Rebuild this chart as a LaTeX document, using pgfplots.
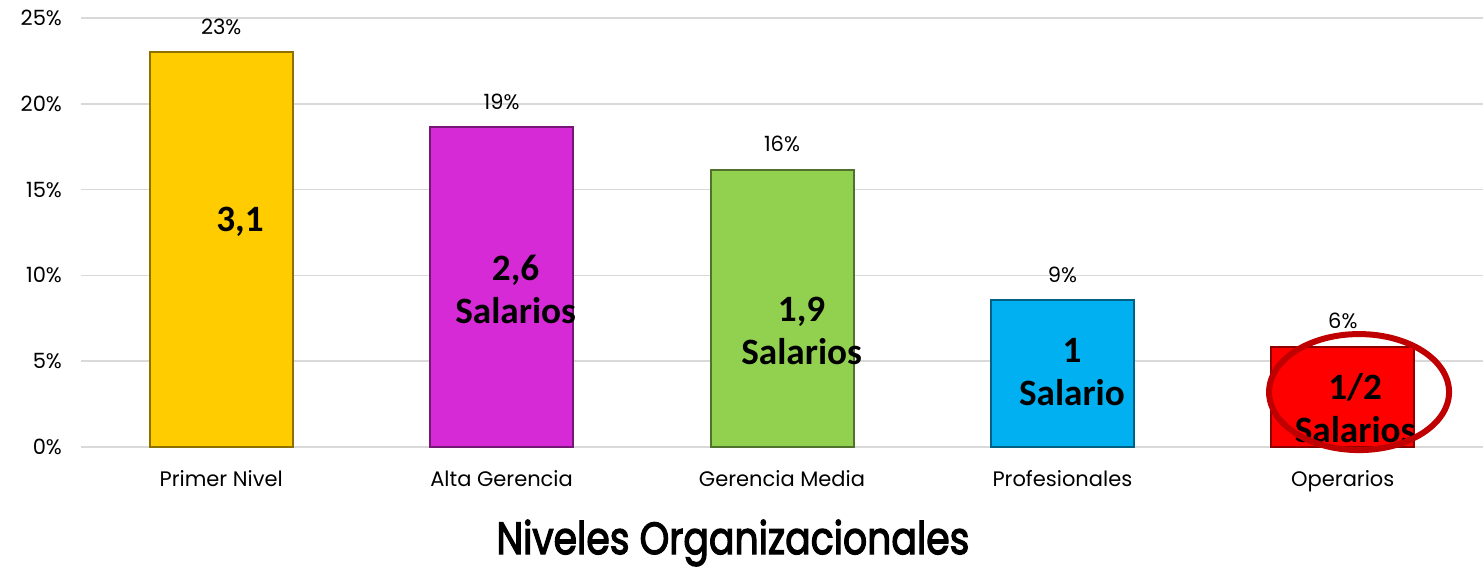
\documentclass[border=0pt]{standalone}
\usepackage{pgfplots}
\pgfplotsset{compat=1.18}
\usepackage{fontspec}
\setmainfont{Poppins}
\newfontfamily\calfont{Carlito}
\newfontfamily\titlefont{Poppins}[FakeBold=3]
\definecolor{cYellow}{RGB}{255,204,0}
\definecolor{cMagenta}{RGB}{214,42,214}
\definecolor{cGreen}{RGB}{146,208,80}
\definecolor{cCyan}{RGB}{0,176,240}
\definecolor{cRed}{RGB}{255,0,0}
\definecolor{cRing}{RGB}{192,0,0}
\begin{document}
\begin{tikzpicture}
\begin{axis}[
  scale only axis, width=701pt, height=214.5pt,
  xmin=-0.5, xmax=4.5, ymin=0, ymax=25,
  ybar, bar width=71.5pt, bar shift=0pt,
  xtick={0,1,2,3,4},
  xticklabels={Primer Nivel, Alta Gerencia, Gerencia Media, Profesionales, Operarios},
  ytick={0,5,10,15,20,25},
  yticklabels={0\%,5\%,10\%,15\%,20\%,25\%},
  ymajorgrids, grid style={black!15, line width=0.75pt},
  axis line style={draw=none}, major tick length=0pt,
  tick label style={font=\fontsize{10.5}{12}\selectfont, text=black},
  yticklabel style={xshift=-6pt},
  xticklabel style={yshift=-8pt},
  /pgf/number format/assume math mode=true,
  nodes near coords={\pgfmathprintnumber[fixed,precision=0]{\pgfplotspointmeta}\%},
  nodes near coords style={font=\fontsize{10.5}{12}\selectfont, text=black, yshift=5pt},
  clip=false,
]
\addplot[fill=cYellow, draw=cYellow!55!black, line width=1pt] coordinates {(0,23)};
\addplot[fill=cMagenta, draw=cMagenta!55!black, line width=1pt] coordinates {(1,18.65)};
\addplot[fill=cGreen, draw=cGreen!55!black, line width=1pt] coordinates {(2,16.15)};
\addplot[fill=cCyan, draw=cCyan!55!black, line width=1pt] coordinates {(3,8.55)};
\addplot[fill=cRed, draw=cRed!55!black, line width=1pt] coordinates {(4,5.85)};
\begin{scope}[every node/.style={font=\calfont\bfseries\fontsize{18.6}{21.5}\selectfont, align=center, text=black}]
\node at (axis cs:0.067,13.1) {3,1};
\node at (axis cs:1.05,9.2) {2,6\\Salarios};
\node at (axis cs:2.07,6.76) {1,9\\Salarios};
\node at (axis cs:3.034,4.37) {1\\Salario};
\node at (axis cs:4.044,2.27) {1/2\\Salarios};
\end{scope}
\draw[cRing, line width=3pt] (axis cs:4.058,3.2) ellipse [x radius=45pt, y radius=29pt];
\node[font=\titlefont\fontsize{22.5}{26}\selectfont] at (rel axis cs:0.5,0) [yshift=-48pt, xshift=-24.5pt] {\scalebox{0.84}[1]{Niveles Organizacionales}};
\end{axis}
\path (current axis.south west) ++(-40.5pt,-61pt) coordinate (bbA);
\path (current axis.north east) ++(0pt,9pt) coordinate (bbB);
\pgfresetboundingbox
\useasboundingbox (bbA) rectangle (bbB);
\end{tikzpicture}
\end{document}
